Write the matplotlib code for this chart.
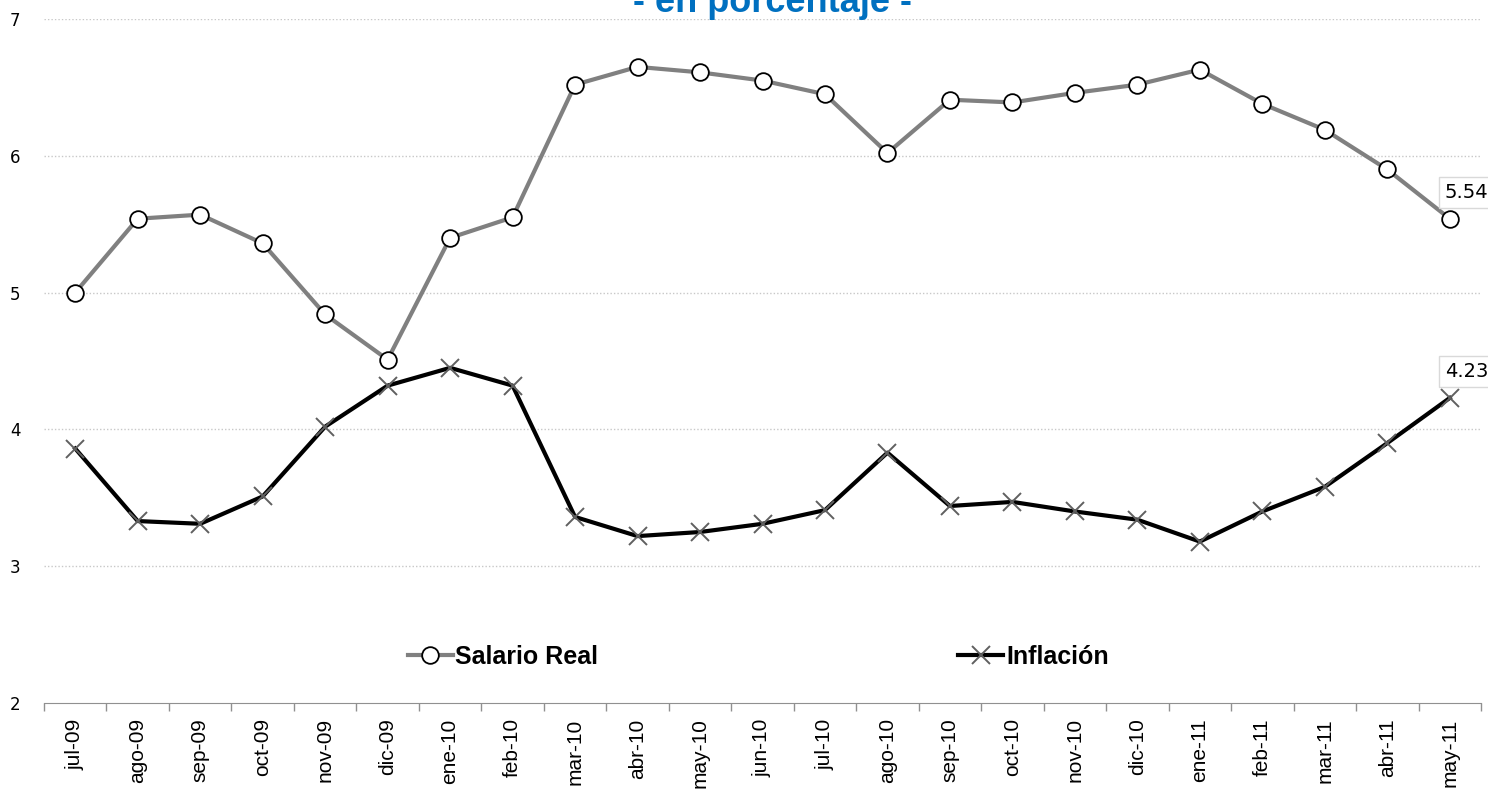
import matplotlib
matplotlib.use('Agg')
from matplotlib import pyplot as plt
import numpy as np

meses = ['jul-09', 'ago-09', 'sep-09', 'oct-09', 'nov-09', 'dic-09', 'ene-10', 'feb-10',
         'mar-10', 'abr-10', 'may-10', 'jun-10', 'jul-10', 'ago-10', 'sep-10', 'oct-10',
         'nov-10', 'dic-10', 'ene-11', 'feb-11', 'mar-11', 'abr-11', 'may-11']
salario_real = [5.00, 5.54, 5.57, 5.36, 4.84, 4.51, 5.40, 5.55, 6.52, 6.65, 6.61, 6.55,
                6.45, 6.02, 6.41, 6.39, 6.46, 6.52, 6.63, 6.38, 6.19, 5.90, 5.54]
inflacion = [3.86, 3.33, 3.31, 3.51, 4.02, 4.32, 4.45, 4.32, 3.36, 3.22, 3.25, 3.31,
             3.41, 3.83, 3.44, 3.47, 3.40, 3.34, 3.18, 3.40, 3.58, 3.90, 4.23]
y_ticks = [2, 3, 4, 5, 6, 7]

fig = plt.figure(figsize=(14.88, 7.92), dpi=100)
ax = fig.add_axes([44 / 1488, 1 - 703 / 792, (1481 - 44) / 1488, (703 - 19) / 792])

x = np.arange(len(meses))
ax.plot(x, salario_real, color='#808080', linewidth=3, marker='o', markersize=12,
        markerfacecolor='white', markeredgecolor='black', markeredgewidth=1.3,
        label='Salario Real', zorder=3)
ax.plot(x, inflacion, color='black', linewidth=3, marker='x', markersize=13,
        markeredgecolor='#606060', markeredgewidth=1.4, label='Inflación', zorder=3)

box = dict(boxstyle='square,pad=0.3', facecolor='white', edgecolor='#d9d9d9', linewidth=1)
ax.annotate(f'{salario_real[-1]:.2f}', (x[-1], salario_real[-1]), xytext=(12, 19),
            textcoords='offset points', fontsize=14, va='center', ha='center',
            bbox=box, annotation_clip=False)
ax.annotate(f'{inflacion[-1]:.2f}', (x[-1], inflacion[-1]), xytext=(12, 19),
            textcoords='offset points', fontsize=14, va='center', ha='center',
            bbox=box, annotation_clip=False)

ax.set_xlim(-0.5, len(meses) - 0.5)
ax.set_ylim(2, 7)
ax.set_yticks(y_ticks)
ax.set_yticklabels([str(t) for t in y_ticks], fontsize=12)
ax.tick_params(axis='y', length=0, pad=17)

ax.set_xticks(x)
ax.set_xticklabels(meses, rotation=90, fontsize=15, family='Liberation Sans')
ax.set_xticks(np.arange(-0.5, len(meses), 1), minor=True)
ax.tick_params(axis='x', which='major', length=0, pad=11)
ax.tick_params(axis='x', which='minor', length=6, color='#909090', width=1)

for t in y_ticks[1:]:
    ax.axhline(t, color='#c8c8c8', linewidth=1, linestyle=(0, (1, 1.5)), zorder=1)

for s in ['top', 'right', 'left']:
    ax.spines[s].set_visible(False)
ax.spines['bottom'].set_color('#909090')

leg = ax.legend(loc='center', bbox_to_anchor=(0.497, 0.067), ncol=2, frameon=False,
                prop={'family': 'Liberation Sans', 'weight': 'bold', 'size': 18},
                handlelength=1.8, handletextpad=0.1, columnspacing=14.4)

fig.text(0.519, 1 - 12 / 792, '- en porcentaje -', ha='center', va='baseline',
         color='#0070C0', fontsize=26, fontweight='bold', family='Liberation Sans')

plt.savefig('out.png', dpi=100)
